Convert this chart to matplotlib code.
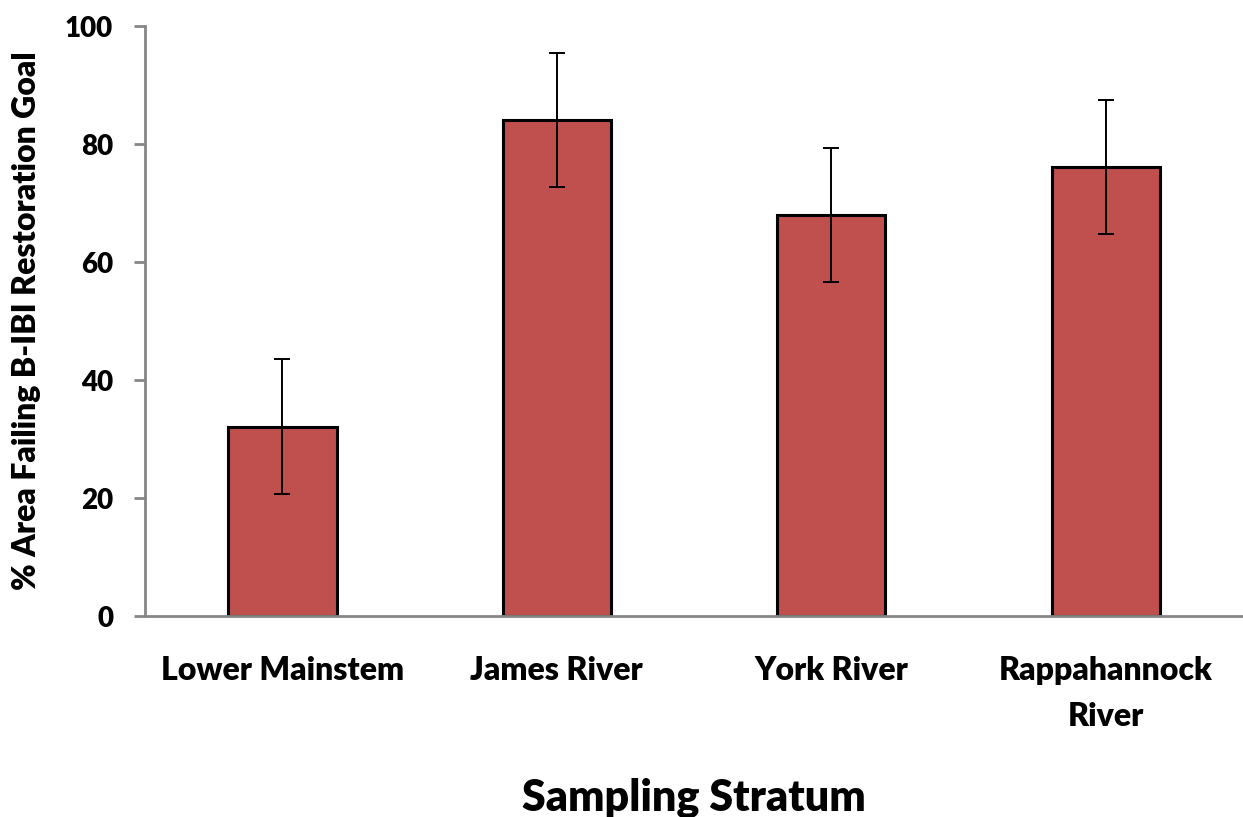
import matplotlib
matplotlib.use("Agg")
import matplotlib.pyplot as plt

# data
strata = ["Lower Mainstem", "James River", "York River", "Rappahannock\nRiver"]
pct_failing = [32.1, 84.1, 68.0, 76.1]
err = [11.4, 11.4, 11.4, 11.3]

plt.rcParams["font.family"] = ["Lato", "DejaVu Sans"]
plt.rcParams["font.weight"] = "heavy"
W = "heavy"

fig = plt.figure(figsize=(12.43, 8.17), dpi=100)
ax = fig.add_axes([0.1167, 0.246, 0.8833, 0.722])

x = range(len(strata))
ax.bar(x, pct_failing, width=0.395, color="#C0504D", edgecolor="black",
       linewidth=2.2, zorder=2)
ax.errorbar(x, pct_failing, yerr=err, fmt="none", ecolor="black",
            elinewidth=1.4, capsize=6, capthick=1.4, zorder=3)

ax.set_xlim(-0.5, 3.5)
ax.set_ylim(0, 100)
ax.set_yticks([0, 20, 40, 60, 80, 100])
ax.set_xticks(list(x))
ax.set_xticklabels(strata, fontsize=23, fontweight=W, linespacing=1.68)
ax.tick_params(axis="y", labelsize=20, length=8, width=2, color="#868686", pad=15)
ax.tick_params(axis="x", length=0, pad=29)
for lab in ax.get_yticklabels():
    lab.set_fontweight(W)

for side in ["top", "right"]:
    ax.spines[side].set_visible(False)
for side in ["left", "bottom"]:
    ax.spines[side].set_color("#868686")
    ax.spines[side].set_linewidth(2)

ax.set_ylabel("% Area Failing B-IBI Restoration Goal", fontsize=23,
              fontweight=W, labelpad=17)
ax.set_xlabel("Sampling Stratum", fontsize=31, fontweight=W, labelpad=34)

fig.savefig("out.png", dpi=100)
